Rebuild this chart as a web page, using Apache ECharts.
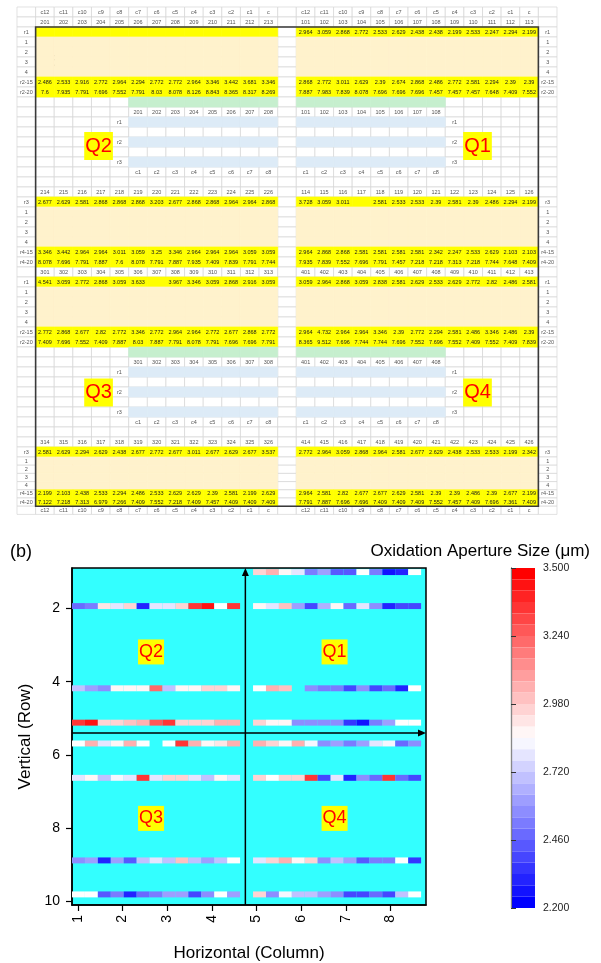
<!DOCTYPE html>
<html>
<head>
<meta charset="utf-8">
<script src="https://cdn.jsdelivr.net/npm/echarts@6/dist/echarts.min.js"></script>
<style>
  html, body { margin: 0; padding: 0; background: #fff; }
  #chart { width: 601px; height: 963px; }
</style>
</head>
<body>
<div id="chart"></div>
<script>
// ---------- (a) spreadsheet labels ----------
var colHeads = ['c12', 'c11', 'c10', 'c9', 'c8', 'c7', 'c6', 'c5', 'c4', 'c3', 'c2', 'c1', 'c'];
var tagsUpper = ['r1', '1', '2', '3', '4', 'r2-15', 'r2-20'];
var tagsLower = ['r3', '1', '2', '3', '4', 'r4-15', 'r4-20'];
var padRows = ['r1', 'r2', 'r3'];
var padCols = ['c1', 'c2', 'c3', 'c4', 'c5', 'c6', 'c7', 'c8'];

var q2Ids = ['201', '202', '203', '204', '205', '206', '207', '208', '209', '210', '211', '212', '213'];
var q2Ids2 = ['214', '215', '216', '217', '218', '219', '220', '221', '222', '223', '224', '225', '226'];
var q1Ids = ['101', '102', '103', '104', '105', '106', '107', '108', '109', '110', '111', '112', '113'];
var q1Ids2 = ['114', '115', '116', '117', '118', '119', '120', '121', '122', '123', '124', '125', '126'];
var q3Ids = ['301', '302', '303', '304', '305', '306', '307', '308', '309', '310', '311', '312', '313'];
var q3Ids2 = ['314', '315', '316', '317', '318', '319', '320', '321', '322', '323', '324', '325', '326'];
var q4Ids = ['401', '402', '403', '404', '405', '406', '407', '408', '409', '410', '411', '412', '413'];
var q4Ids2 = ['414', '415', '416', '417', '418', '419', '420', '421', '422', '423', '424', '425', '426'];

// ---------- measured values (c12 ... c) ----------
// Q2
var q2R1 = [null, null, null, null, null, null, null, null, null, null, null, null, null];
var q2R2_15 = [2.486, 2.533, 2.916, 2.772, 2.964, 2.294, 2.772, 2.772, 2.964, 3.346, 3.442, 3.681, 3.346];
var q2R2_20 = [7.6, 7.935, 7.791, 7.696, 7.552, 7.791, 8.03, 8.078, 8.126, 8.843, 8.365, 8.317, 8.269];
var q2R3 = [2.677, 2.629, 2.581, 2.868, 2.868, 2.868, 3.203, 2.677, 2.868, 2.868, 2.964, 2.964, 2.868];
var q2R4_15 = [3.346, 3.442, 2.964, 2.964, 3.011, 3.059, 3.25, 3.346, 2.964, 2.964, 2.964, 3.059, 3.059];
var q2R4_20 = [8.078, 7.696, 7.791, 7.887, 7.6, 8.078, 7.791, 7.887, 7.935, 7.409, 7.839, 7.791, 7.744];
// Q1
var q1R1 = [2.964, 3.059, 2.868, 2.772, 2.533, 2.629, 2.438, 2.438, 2.199, 2.533, 2.247, 2.294, 2.199];
var q1R2_15 = [2.868, 2.772, 3.011, 2.629, 2.39, 2.674, 2.868, 2.486, 2.772, 2.581, 2.294, 2.39, 2.39];
var q1R2_20 = [7.887, 7.983, 7.839, 8.078, 7.696, 7.696, 7.696, 7.457, 7.457, 7.457, 7.648, 7.409, 7.552];
var q1R3 = [3.728, 3.059, 3.011, null, 2.581, 2.533, 2.533, 2.39, 2.581, 2.39, 2.486, 2.294, 2.199];
var q1R4_15 = [2.964, 2.868, 2.868, 2.581, 2.581, 2.581, 2.581, 2.342, 2.247, 2.533, 2.629, 2.103, 2.103];
var q1R4_20 = [7.935, 7.839, 7.552, 7.696, 7.791, 7.457, 7.218, 7.218, 7.313, 7.218, 7.744, 7.648, 7.409];
// Q3
var q3R1 = [4.541, 3.059, 2.772, 2.868, 3.059, 3.633, null, 3.967, 3.346, 3.059, 2.868, 2.916, 3.059];
var q3R2_15 = [2.772, 2.868, 2.677, 2.82, 2.772, 3.346, 2.772, 2.964, 2.964, 2.772, 2.677, 2.868, 2.772];
var q3R2_20 = [7.409, 7.696, 7.552, 7.409, 7.887, 8.03, 7.887, 7.791, 8.078, 7.791, 7.696, 7.696, 7.791];
var q3R3 = [2.581, 2.629, 2.294, 2.629, 2.438, 2.677, 2.772, 2.677, 3.011, 2.677, 2.629, 2.677, 3.537];
var q3R4_15 = [2.199, 2.103, 2.438, 2.533, 2.294, 2.486, 2.533, 2.629, 2.629, 2.39, 2.581, 2.199, 2.629];
var q3R4_20 = [7.122, 7.218, 7.313, 6.979, 7.266, 7.409, 7.552, 7.218, 7.409, 7.457, 7.409, 7.409, 7.409];
// Q4
var q4R1 = [3.059, 2.964, 2.868, 3.059, 2.838, 2.581, 2.629, 2.533, 2.629, 2.772, 2.82, 2.486, 2.581];
var q4R2_15 = [2.964, 4.732, 2.964, 2.964, 3.346, 2.39, 2.772, 2.294, 2.581, 2.486, 3.346, 2.486, 2.39];
var q4R2_20 = [8.365, 9.512, 7.696, 7.744, 7.744, 7.696, 7.552, 7.696, 7.552, 7.409, 7.552, 7.409, 7.839];
var q4R3 = [2.772, 2.964, 3.059, 2.868, 2.964, 2.581, 2.677, 2.629, 2.438, 2.533, 2.533, 2.199, 2.342];
var q4R4_15 = [2.964, 2.581, 2.82, 2.677, 2.677, 2.629, 2.581, 2.39, 2.39, 2.486, 2.39, 2.677, 2.199];
var q4R4_20 = [7.791, 7.887, 7.696, 7.696, 7.409, 7.409, 7.409, 7.552, 7.457, 7.409, 7.696, 7.361, 7.409];

// ---------- (b) map: vertical row position of r1, r2-15, r3, r4-15 ----------
var stripRowsUpper = [1.0, 1.93, 4.18, 5.12];   // Q2 | Q1
var stripRowsLower = [5.69, 6.63, 8.89, 9.82];  // Q3 | Q4
var xTicks = [1, 2, 3, 4, 5, 6, 7, 8];
var yTicks = [2, 4, 6, 8, 10];
var barTicks = [2.2, 2.46, 2.72, 2.98, 3.24, 3.5];
var quadNames = ['Q2', 'Q1', 'Q3', 'Q4'];

// ---------- build the sheet ----------
var NC = 29, NR = 52;
var fills = { yel: '#ffff00', cream: '#fff2cc', green: '#c6efce', blue: '#ddebf7' };
var grid = [];
for (var r = 0; r < NR; r++) {
    for (var c = 0; c < NC; c++) {
        grid.push({ col: c, row: r, fill: null, text: '', tone: 'lab' });
    }
}
function cellAt(c, r) { return grid[r * NC + c]; }
function put(c, r, text, fill, tone) {
    var cell = cellAt(c, r);
    if (text != null) cell.text = text;
    if (fill) cell.fill = fill;
    if (tone) cell.tone = tone;
}
// block: 0 = left (cols 1..13), 1 = right (cols 15..27)
function bcol(side, i) { return (side ? 15 : 1) + i; }
function valueRow(side, r, vals) {
    for (var i = 0; i < 13; i++) {
        put(bcol(side, i), r, vals[i] == null ? '' : String(vals[i]), 'yel', 'val');
    }
}
function fillRow(side, r, fill) {
    for (var i = 0; i < 13; i++) put(bcol(side, i), r, null, fill);
}

for (var i = 0; i < 13; i++) {
    put(bcol(0, i), 0, colHeads[i]); put(bcol(1, i), 0, colHeads[i]);
    put(bcol(0, i), 51, colHeads[i]); put(bcol(1, i), 51, colHeads[i]);
}

var sections = [
    { top: 2,
      L: { ids: q2Ids, ids2: q2Ids2, rows: [q2R1, q2R2_15, q2R2_20, q2R3, q2R4_15, q2R4_20] },
      R: { ids: q1Ids, ids2: q1Ids2, rows: [q1R1, q1R2_15, q1R2_20, q1R3, q1R4_15, q1R4_20] } },
    { top: 27,
      L: { ids: q3Ids, ids2: q3Ids2, rows: [q3R1, q3R2_15, q3R2_20, q3R3, q3R4_15, q3R4_20] },
      R: { ids: q4Ids, ids2: q4Ids2, rows: [q4R1, q4R2_15, q4R2_20, q4R3, q4R4_15, q4R4_20] } }
];

sections.forEach(function (s) {
    var R = s.top;
    for (var k = 0; k < 7; k++) {
        put(0, R + k, tagsUpper[k]); put(28, R + k, tagsUpper[k]);
        put(0, R + 17 + k, tagsLower[k]); put(28, R + 17 + k, tagsLower[k]);
    }
    [s.L, s.R].forEach(function (q, side) {
        for (var i = 0; i < 13; i++) {
            put(bcol(side, i), R - 1, q.ids[i]);
            put(bcol(side, i), R + 16, q.ids2[i]);
        }
        valueRow(side, R, q.rows[0]);
        for (var k = 1; k <= 4; k++) fillRow(side, R + k, 'cream');
        valueRow(side, R + 5, q.rows[1]);
        valueRow(side, R + 6, q.rows[2]);
        valueRow(side, R + 17, q.rows[3]);
        for (var k2 = 18; k2 <= 21; k2++) fillRow(side, R + k2, 'cream');
        valueRow(side, R + 22, q.rows[4]);
        valueRow(side, R + 23, q.rows[5]);
        // small pad drawing
        var first = side ? 0 : 5;
        for (var j = 0; j < 8; j++) {
            put(bcol(side, first + j), R + 7, null, 'green');
            put(bcol(side, first + j), R + 8, q.ids[j]);
            put(bcol(side, first + j), R + 9, null, 'blue');
            put(bcol(side, first + j), R + 11, null, 'blue');
            put(bcol(side, first + j), R + 13, null, 'blue');
            put(bcol(side, first + j), R + 14, padCols[j]);
        }
        var tagCol = side ? bcol(1, 8) : bcol(0, 4);
        put(tagCol, R + 9, padRows[0]);
        put(tagCol, R + 11, padRows[1]);
        put(tagCol, R + 13, padRows[2]);
    });
});

var cells = grid.filter(function (g) { return !g.fill; })
    .concat(grid.filter(function (g) { return g.fill; }));

// sheet rows 45.. are drawn a little shorter
function rowEdge(r) { return r <= 45 ? r : 45 + (r - 45) * 0.82; }
var sheetRows = rowEdge(NR);

// quadrant tags in the sheet (cell units)
var sheetQuad = [[4.38, 13.9], [24.73, 13.9], [4.38, 38.55], [24.73, 38.55]];
// quadrant tags in the map (axis units)
var mapQuad = [[2.64, 3.185], [6.75, 3.185], [2.64, 7.74], [6.75, 7.74]];
// axis arrows in the map (from -> to)
var mapArrows = [[4.752, 10.11, 4.752, 0.888], [0.87, 5.40, 8.797, 5.40]];

// ---------- map cells ----------
var mapX0 = [0.87, 4.924];
var mapCellW = 0.2895, mapCellH = 0.163;
var heatData = [];
function addStrip(vals, yPos, side) {
    for (var i = 0; i < vals.length; i++) {
        if (vals[i] == null) continue;
        heatData.push([mapX0[side] + (i + 0.5) * mapCellW, yPos, vals[i]]);
    }
}
[q2R1, q2R2_15, q2R3, q2R4_15].forEach(function (v, k) { addStrip(v, stripRowsUpper[k], 0); });
[q1R1, q1R2_15, q1R3, q1R4_15].forEach(function (v, k) { addStrip(v, stripRowsUpper[k], 1); });
[q3R1, q3R2_15, q3R3, q3R4_15].forEach(function (v, k) { addStrip(v, stripRowsLower[k], 0); });
[q4R1, q4R2_15, q4R3, q4R4_15].forEach(function (v, k) { addStrip(v, stripRowsLower[k], 1); });

var FONT = "'Liberation Sans', Arial, sans-serif";
var NARROW = "'Liberation Sans Narrow', 'Liberation Sans', sans-serif";

var chart = echarts.init(document.getElementById('chart'));
var option = {
    animation: false,
    backgroundColor: '#fff',
    textStyle: { fontFamily: FONT },
    grid: [
        { left: 17, top: 7, width: 540, height: sheetRows * 10 },
        { left: 72, top: 568, width: 354, height: 340, show: true,
          backgroundColor: '#33ffff', borderColor: '#000', borderWidth: 1.5 },
        { left: 511, top: 568, width: 24, height: 340 }
    ],
    xAxis: [
        { gridIndex: 0, type: 'category', show: false,
          data: grid.slice(0, NC).map(function (g) { return String(g.col); }) },
        { gridIndex: 1, type: 'value', min: 0.87, max: 8.797,
          name: 'Horizontal (Column)', nameLocation: 'middle', nameGap: 40,
          nameTextStyle: { fontSize: 17, color: '#000' },
          axisLine: { show: true, lineStyle: { color: '#000', width: 1.5 } },
          axisTick: { show: true, length: 6, customValues: xTicks, lineStyle: { color: '#000', width: 1.2 } },
          axisLabel: { customValues: xTicks, rotate: 90, fontSize: 14, color: '#000', margin: 10 },
          splitLine: { show: false } },
        { gridIndex: 2, type: 'value', show: false, min: 0, max: 1 }
    ],
    yAxis: [
        { gridIndex: 0, type: 'value', show: false, min: 0, max: sheetRows, inverse: true },
        { gridIndex: 1, type: 'value', min: 0.888, max: 10.11, inverse: true,
          name: 'Vertical (Row)', nameLocation: 'middle', nameGap: 30, nameRotate: 90,
          nameTextStyle: { fontSize: 17, color: '#000' },
          axisLine: { show: true, lineStyle: { color: '#000', width: 1.5 } },
          axisTick: { show: true, length: 6, customValues: yTicks, lineStyle: { color: '#000', width: 1.2 } },
          axisLabel: { customValues: yTicks, fontSize: 14, color: '#000', margin: 12 },
          splitLine: { show: false } },
        { gridIndex: 2, type: 'value', min: 2.2, max: 3.5, position: 'right', z: 10,
          axisLine: { show: true, lineStyle: { color: '#333', width: 1.2 } },
          axisTick: { show: true, length: 5, customValues: barTicks, lineStyle: { color: '#333' } },
          axisLabel: { customValues: barTicks, fontSize: 10.5, color: '#222', margin: 8,
                       formatter: function (v) { return v.toFixed(3); } },
          splitLine: { show: false } },
        { gridIndex: 2, type: 'value', min: 2.2, max: 3.5, position: 'left', z: 10,
          axisLine: { show: true, lineStyle: { color: '#888', width: 1 } },
          axisTick: { show: false }, axisLabel: { show: false }, splitLine: { show: false } }
    ],
    visualMap: {
        type: 'piecewise', seriesIndex: 3, dimension: 2,
        min: 2.2, max: 3.5, splitNumber: 30,
        orient: 'vertical', left: 511, top: 568, padding: 0,
        itemWidth: 24, itemHeight: 340 / 30, itemGap: 0, itemSymbol: 'rect',
        showLabel: false, selectedMode: false, hoverLink: false,
        inRange: { color: ['#0000ff', '#ffffff', '#ff0000'] },
        outOfRange: { color: '#ffffff' }
    },
    graphic: [
        { type: 'text', left: 42, top: 50, style: { text: '(a)', fontSize: 21, fill: '#000', fontFamily: FONT } },
        { type: 'text', left: 10, top: 543, style: { text: '(b)', fontSize: 18, fill: '#000', fontFamily: FONT } },
        { type: 'text', right: 11, top: 543, style: { text: 'Oxidation Aperture Size (\u03bcm)', fontSize: 17, fill: '#000', fontFamily: FONT } }
    ],
    series: [
        // 0: sheet cells
        {
            type: 'custom', xAxisIndex: 0, yAxisIndex: 0, silent: true,
            data: cells.map(function (g) { return [g.col, g.row]; }),
            renderItem: function (params, api) {
                var cell = cells[params.dataIndex];
                var bw = api.size([1, 0])[0];
                var cx = api.coord([cell.col, 0])[0];
                var y0 = api.coord([cell.col, rowEdge(cell.row)])[1];
                var y1 = api.coord([cell.col, rowEdge(cell.row + 1)])[1];
                var x = cx - bw / 2, y = Math.min(y0, y1), h = Math.abs(y1 - y0);
                var fill = cell.fill ? fills[cell.fill] : '#fff';
                var kids = [{
                    type: 'rect', shape: { x: x, y: y, width: bw, height: h },
                    style: { fill: fill, stroke: cell.fill ? fill : '#d6d6d6', lineWidth: 0.7 }
                }];
                if (cell.text) {
                    kids.push({
                        type: 'text',
                        style: { text: cell.text, x: cx, y: y + h / 2, align: 'center', verticalAlign: 'middle',
                                 fontSize: 5.5, fontFamily: FONT,
                                 fill: cell.tone === 'val' ? '#1a1a1a' : '#555' }
                    });
                }
                return { type: 'group', children: kids };
            }
        },
        // 1: thick sheet frame
        {
            type: 'custom', xAxisIndex: 0, yAxisIndex: 0, silent: true,
            data: [[1, 2, 27, 51]],
            renderItem: function (params, api) {
                var bw = api.size([1, 0])[0];
                var xa = api.coord([api.value(0), 0])[0] - bw / 2;
                var xb = api.coord([api.value(2), 0])[0] + bw / 2;
                var ya = api.coord([0, rowEdge(api.value(1))])[1];
                var yb = api.coord([0, rowEdge(api.value(3))])[1];
                return { type: 'rect', shape: { x: xa, y: ya, width: xb - xa, height: yb - ya },
                         style: { fill: null, stroke: '#3a3a3a', lineWidth: 1.6 } };
            }
        },
        // 2: quadrant tags in the sheet
        {
            type: 'custom', xAxisIndex: 0, yAxisIndex: 0, silent: true,
            data: sheetQuad,
            renderItem: function (params, api) {
                var bw = api.size([1, 0])[0];
                var x = api.coord([0, 0])[0] - bw / 2 + api.value(0) * bw;
                var y = api.coord([0, api.value(1)])[1];
                return { type: 'text', z2: 10,
                         style: { text: quadNames[params.dataIndex], x: x, y: y, align: 'center', verticalAlign: 'middle',
                                  fontSize: 20, fontFamily: NARROW, fill: '#ff0000',
                                  backgroundColor: '#ffff00', padding: [2, 1, 1, 1], lineHeight: 25 } };
            }
        },
        // 3: oxidation aperture map
        {
            type: 'custom', xAxisIndex: 1, yAxisIndex: 1, silent: true,
            encode: { x: 0, y: 1 },
            data: heatData,
            renderItem: function (params, api) {
                var x = api.value(0), y = api.value(1);
                var p0 = api.coord([x - mapCellW / 2, y - mapCellH / 2]);
                var p1 = api.coord([x + mapCellW / 2, y + mapCellH / 2]);
                return { type: 'rect',
                         shape: { x: Math.min(p0[0], p1[0]), y: Math.min(p0[1], p1[1]),
                                  width: Math.abs(p1[0] - p0[0]), height: Math.abs(p1[1] - p0[1]) },
                         style: { fill: api.visual('color') } };
            }
        },
        // 4: quadrant tags in the map
        {
            type: 'custom', xAxisIndex: 1, yAxisIndex: 1, silent: true, z: 5,
            data: mapQuad,
            renderItem: function (params, api) {
                var p = api.coord([api.value(0), api.value(1)]);
                return { type: 'text', z2: 10,
                         style: { text: quadNames[params.dataIndex], x: p[0], y: p[1], align: 'center', verticalAlign: 'middle',
                                  fontSize: 18, fontFamily: NARROW, fill: '#ff0000',
                                  backgroundColor: '#ffff00', padding: [2, 1, 1, 1], lineHeight: 22 } };
            }
        },
        // 5: axis arrows in the map
        {
            type: 'custom', xAxisIndex: 1, yAxisIndex: 1, silent: true, z: 6,
            data: mapArrows,
            renderItem: function (params, api) {
                var a = api.coord([api.value(0), api.value(1)]);
                var b = api.coord([api.value(2), api.value(3)]);
                var dx = b[0] - a[0], dy = b[1] - a[1];
                var len = Math.sqrt(dx * dx + dy * dy);
                var ux = dx / len, uy = dy / len;
                var hl = 8, hw = 3.5;
                var bx = b[0] - ux * hl, by = b[1] - uy * hl;
                return { type: 'group', children: [
                    { type: 'line', shape: { x1: a[0], y1: a[1], x2: bx, y2: by },
                      style: { stroke: '#000', lineWidth: 1.5 } },
                    { type: 'polygon', shape: { points: [[b[0], b[1]], [bx - uy * hw, by + ux * hw], [bx + uy * hw, by - ux * hw]] },
                      style: { fill: '#000' } }
                ] };
            }
        }
    ]
};
chart.setOption(option);
</script>
</body>
</html>
